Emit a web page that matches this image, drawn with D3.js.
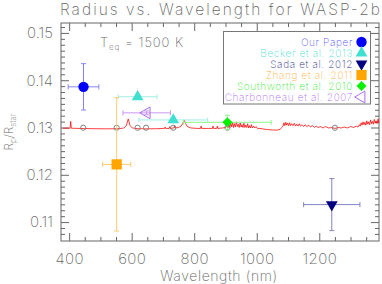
<!DOCTYPE html>
<html>
<head>
<meta charset="utf-8">
<script src="https://cdn.jsdelivr.net/npm/d3@7"></script>
<style>
  body { margin: 0; background: #fff; }
  text { font-family: Inter, "Liberation Sans", Arial, sans-serif; font-weight: 200; fill: #666; }
  .axis line { stroke: #666; }
  .axis path { display: none; }
</style>
</head>
<body>
<svg width="382" height="284"></svg>
<script>
// model spectrum (nm, Rp/Rstar)
var modelWave = [380, 400, 403, 405, 407, 420, 450, 480, 520, 560, 575, 583, 589, 595, 602, 620, 650, 680, 700,
  705, 707, 709, 720, 722, 724, 735, 737, 739, 750, 758, 763, 768, 773, 778, 790,
  810, 820, 822, 824, 845, 858, 860, 862, 872, 874, 876, 890, 900,
  905, 908, 911, 914, 917, 920, 923, 926, 929, 932, 935, 938, 941, 944, 947, 950, 953, 956, 959, 962, 965, 968,
  971, 974, 977, 980, 983, 986, 990, 994, 998, 1002,
  1010, 1020, 1035, 1050, 1065, 1075,
  1080, 1084, 1087, 1090, 1093, 1096, 1099, 1102, 1105, 1108, 1112, 1116, 1120, 1124, 1128, 1132, 1136, 1140,
  1145, 1150, 1155, 1160, 1166, 1172, 1178, 1184, 1190, 1196, 1204, 1212, 1220, 1230, 1240, 1250, 1260, 1270,
  1280, 1290, 1300, 1310, 1318, 1324, 1328, 1331, 1334, 1337, 1340, 1343, 1346, 1349, 1352, 1355, 1358, 1361,
  1364, 1367, 1370, 1373, 1376, 1379, 1382, 1385, 1388, 1391];
var modelRad = [.12985, .12985, .12985, .1313, .12985, .12982, .12978, .12975, .12972, .12975, .1299, .1304, .1318, .1304, .1299, .12975, .12972, .12975, .1298,
  .1298, .1301, .1298, .1298, .1302, .1298, .1299, .1303, .1299, .1300, .1303, .1308, .1316, .1308, .1302, .1299,
  .1298, .1298, .1303, .1298, .1298, .1298, .1303, .1298, .1298, .1303, .1298, .1299, .1300,
  .1302, .1299, .1307, .1300, .1309, .1301, .1311, .1300, .1308, .1301, .1312, .1302, .1307, .1300, .1310, .1301, .1306, .1300, .1309, .1300, .1305, .1300,
  .1308, .1299, .1304, .1299, .1306, .1299, .1303, .1299, .1302, .1298,
  .1298, .1297, .12955, .12948, .12945, .1296,
  .1300, .1303, .1310, .1304, .1311, .1305, .1309, .1304, .1310, .1304, .1308, .1304, .1309, .1303, .1307, .1303, .1308, .1303,
  .1306, .1302, .1306, .1302, .1305, .1301, .1304, .1300, .1303, .1300, .1302, .1299, .1302, .1299, .1300, .1298, .1300, .1299,
  .1301, .1299, .1302, .1300, .1303, .1301, .1306, .1303, .1310, .1305, .1312, .1306, .1311, .1305, .1314, .1307, .1312, .1306,
  .1316, .1308, .1313, .1307, .1317, .1309, .1314, .1308, .1318, .1310];

// binned model
var binWave = [445, 552, 619, 646, 733, 906, 1250];
var binRad = [.12995, .12995, .12995, .12995, .12995, .12995, .12995];

// observations
var obsSource = ["Our Paper", "Becker et al. 2013", "Becker et al. 2013", "Sada et al. 2012",
  "Zhang et al. 2011", "Southworth et al. 2010", "Charbonneau et al. 2007"];
var obsWave = [446, 619, 733, 1240, 552, 906, 648];
var obsWaveErr = [49, 62, 110, 90, 45, 140, 76];
var obsRad = [.1386, .1365, .1316, .1137, .1222, .1311, .1331];
var obsRadErr = [.0049, .0006, .0006, .0055, .0141, .0015, .0004];

var legendNames = ["Our Paper", "Becker et al. 2013", "Sada et al. 2012",
  "Zhang et al. 2011", "Southworth et al. 2010", "Charbonneau et al. 2007"];

var xMajor = [400, 600, 800, 1000, 1200];
var yMajor = [0.11, 0.12, 0.13, 0.14, 0.15];

var style = {
  "Our Paper": {fill: "#0000ff", text: "#5c5cff", bar: "#8484ff", shape: d3.symbolCircle, size: 85, rot: 0},
  "Becker et al. 2013": {fill: "#40e0d0", text: "#58e2d4", bar: "#a0eee6", shape: d3.symbolTriangle, size: 60, rot: 0},
  "Sada et al. 2012": {fill: "#000080", text: "#3c3c94", bar: "#8484c4", shape: d3.symbolTriangle, size: 60, rot: 180},
  "Zhang et al. 2011": {fill: "#ffa500", text: "#ffb850", bar: "#ffcc70", shape: d3.symbolSquare, size: 105, rot: 0},
  "Southworth et al. 2010": {fill: "#00f000", text: "#44ee44", bar: "#88f888", shape: d3.symbolSquare, size: 50, rot: 45},
  "Charbonneau et al. 2007": {fill: "none", stroke: "#a86cf0", text: "#b27cf4", bar: "#c898f4", shape: d3.symbolTriangle, size: 60, rot: -90}
};

var svg = d3.select("svg"),
    margin = {top: 23, left: 61, bottom: 43, right: 3},
    width = +svg.attr("width") - margin.left - margin.right,
    height = +svg.attr("height") - margin.top - margin.bottom;

var x = d3.scaleLinear().domain([374, 1391]).range([0, width]);
var y = d3.scaleLinear().domain([0.106, 0.1521]).range([height, 0]);

var g = svg.append("g")
    .attr("transform", "translate(" + margin.left + "," + margin.top + ")");

var xMinor = d3.range(400, 1391, 50).filter(function(v) { return xMajor.indexOf(v) < 0; });
var yMinor = d3.range(0.1075, 0.152, 0.00125).filter(function(v) {
  return !yMajor.some(function(m) { return Math.abs(m - v) < 1e-6; });
});

// axes, ticks pointing inward
function tickAxis(axisFn, values, size, labels) {
  var a = axisFn.tickValues(values).tickSize(-size).tickPadding(labels ? 12 : 0);
  if (!labels) a.tickFormat("");
  return a;
}

var bottom = g.append("g").attr("class", "axis").attr("transform", "translate(0," + height + ")");
bottom.call(tickAxis(d3.axisBottom(x), xMajor, 8, true).tickFormat(d3.format("d")));
bottom.append("g").call(tickAxis(d3.axisBottom(x), xMinor, 4, false));
bottom.selectAll("text").style("font-size", "15px").style("letter-spacing", "0.4px").attr("fill", "#666");

var top_ = g.append("g").attr("class", "axis");
top_.call(tickAxis(d3.axisTop(x), xMajor, 8, false));
top_.append("g").call(tickAxis(d3.axisTop(x), xMinor, 4, false));

var left = g.append("g").attr("class", "axis");
left.call(tickAxis(d3.axisLeft(y), yMajor, 8, true).tickFormat(d3.format(".2f")));
left.append("g").call(tickAxis(d3.axisLeft(y), yMinor, 4, false));
left.selectAll("text").style("font-size", "15px").attr("fill", "#666").attr("dx", 4);

var right = g.append("g").attr("class", "axis").attr("transform", "translate(" + width + ",0)");
right.call(tickAxis(d3.axisRight(y), yMajor, 8, false));
right.append("g").call(tickAxis(d3.axisRight(y), yMinor, 4, false));

g.append("rect")
    .attr("width", width)
    .attr("height", height)
    .attr("fill", "none")
    .attr("stroke", "#666");

// model
var model = modelWave.map(function(w, i) { return [w, modelRad[i]]; });
g.append("path")
    .datum(model)
    .attr("fill", "none")
    .attr("stroke", "#ff0000")
    .attr("stroke-opacity", 0.75)
    .attr("stroke-width", 1)
    .attr("d", d3.line()
        .x(function(d) { return x(d[0]); })
        .y(function(d) { return y(d[1]); }));

g.append("g").selectAll("circle")
    .data(binWave)
  .enter().append("circle")
    .attr("cx", function(d) { return x(d); })
    .attr("cy", function(d, i) { return y(binRad[i]); })
    .attr("r", 2.6)
    .attr("fill", "none")
    .attr("stroke", "#777")
    .attr("stroke-width", 0.9);

// error bars
var obs = obsSource.map(function(s, i) {
  return {s: s, w: obsWave[i], we: obsWaveErr[i], r: obsRad[i], re: obsRadErr[i]};
});
var cap = 2.5;
var bars = g.append("g").selectAll("g")
    .data(obs)
  .enter().append("g")
    .attr("stroke", function(d) { return style[d.s].bar; })
    .attr("stroke-width", 1);

bars.append("path")
    .attr("fill", "none")
    .attr("d", function(d) {
      var x0 = x(d.w - d.we), x1 = x(d.w + d.we), xc = x(d.w),
          y0 = y(d.r - d.re), y1 = y(d.r + d.re), yc = y(d.r);
      return "M" + x0 + "," + yc + "H" + x1 +
             "M" + x0 + "," + (yc - cap) + "V" + (yc + cap) +
             "M" + x1 + "," + (yc - cap) + "V" + (yc + cap) +
             "M" + xc + "," + y0 + "V" + y1 +
             "M" + (xc - cap) + "," + y0 + "H" + (xc + cap) +
             "M" + (xc - cap) + "," + y1 + "H" + (xc + cap);
    });

function marker(sel) {
  sel.attr("d", function(d) { var st = style[d.s || d]; return d3.symbol().type(st.shape).size(st.size)(); })
     .attr("fill", function(d) { return style[d.s || d].fill; })
     .attr("stroke", function(d) { return style[d.s || d].stroke || "none"; })
     .attr("stroke-width", 1);
}

g.append("g").selectAll("path")
    .data(obs)
  .enter().append("path")
    .attr("transform", function(d) {
      return "translate(" + x(d.w) + "," + y(d.r) + ") rotate(" + style[d.s].rot + ")";
    })
    .call(marker);

// legend
var legend = svg.append("g");
legend.append("rect")
    .attr("x", 223.5).attr("y", 31.5)
    .attr("width", 147).attr("height", 72.5)
    .attr("fill", "#fff")
    .attr("stroke", "#777");

var rows = legend.selectAll("g.row")
    .data(legendNames)
  .enter().append("g")
    .attr("class", "row")
    .attr("transform", function(d, i) { return "translate(0," + (42 + i * 11) + ")"; });

rows.append("text")
    .attr("x", 353)
    .attr("dy", "0.36em")
    .attr("text-anchor", "end")
    .style("font-size", "10px")
    .style("letter-spacing", "0.65px")
    .style("fill", function(d) { return style[d].text; })
    .text(function(d) { return d; });

rows.append("path")
    .attr("transform", function(d) { return "translate(361.5,0) rotate(" + style[d].rot + ")"; })
    .call(marker);

// labels
svg.append("text")
    .attr("x", margin.left + width / 2)
    .attr("y", 15)
    .attr("text-anchor", "middle")
    .attr("textLength", 320)
    .attr("lengthAdjust", "spacing")
    .style("font-size", "15.5px")
    .text("Radius vs. Wavelength for WASP-2b");

var teq = svg.append("text")
    .attr("x", 100)
    .attr("y", 46.5)
    .style("font-size", "13px")
    .style("letter-spacing", "0.9px");
teq.append("tspan").text("T");
teq.append("tspan").attr("dy", 3).style("font-size", "8px").text("eq");
teq.append("tspan").attr("dy", -3).text(" = 1500 K");

svg.append("text")
    .attr("x", margin.left + width / 2 - 1)
    .attr("y", 281)
    .attr("text-anchor", "middle")
    .style("font-size", "14px")
    .style("letter-spacing", "0.6px")
    .text("Wavelength (nm)");

var ylab = svg.append("text")
    .attr("transform", "translate(13,132) rotate(-90)")
    .attr("text-anchor", "middle")
    .style("font-size", "12px");
ylab.append("tspan").text("R");
ylab.append("tspan").attr("dy", 3).style("font-size", "8px").text("p");
ylab.append("tspan").attr("dy", -3).text("/R");
ylab.append("tspan").attr("dy", 3).style("font-size", "8px").text("star");
</script>
</body>
</html>
